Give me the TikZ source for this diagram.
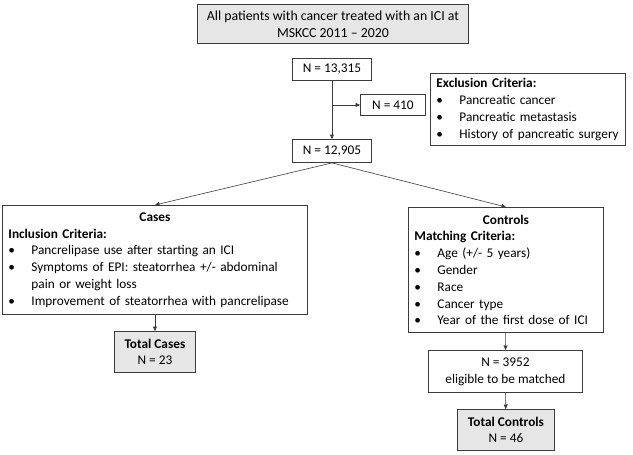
\documentclass[tikz,border=0pt]{standalone}
\usepackage{fontspec}
\setmainfont{Carlito}
\usetikzlibrary{arrows.meta}
\definecolor{boxline}{HTML}{3C3C3C}
\definecolor{boxfill}{HTML}{E6E6E6}
\newcommand{\bul}[1]{\makebox[23pt][l]{\textbullet}#1}
\newcommand{\bulcont}[1]{\hspace*{23pt}#1}
\begin{document}
\begin{tikzpicture}[x=1pt,y=-1pt,
  font=\fontsize{13.3}{16.8}\selectfont,
  box/.style={draw=boxline, line width=0.9pt, inner sep=0pt, align=center, anchor=north west},
  greybox/.style={box, fill=boxfill},
  listbox/.style={box, align=left, inner xsep=6pt},
  arr/.style={-{Triangle[length=4.5pt,width=4pt]}, draw=boxline, line width=0.6pt}]
\useasboundingbox (0,0) rectangle (633,455);
\node[greybox, minimum width=271pt, minimum height=39pt, font=\fontsize{13.8}{17}\selectfont] at (197,4) (all) {All patients with cancer treated with an ICI at\\MSKCC 2011 -- 2020};
\node[box, minimum width=79pt, minimum height=22pt] at (292,58) (n1) {N = 13,315};
\node[box, minimum width=65pt, minimum height=21pt] at (360,94) (excl) {N = 410};
\node[listbox, text width=183pt, minimum height=72pt] at (430,73) (crit) {\textbf{Exclusion Criteria:}\\\bul{Pancreatic cancer}\\\bul{Pancreatic metastasis}\\\bul{History of pancreatic surgery}};
\node[box, minimum width=79pt, minimum height=23pt] at (292,139) (n2) {N = 12,905};
\node[listbox, text width=293pt, minimum height=109pt] at (2,205) (cases) {\makebox[\linewidth]{\textbf{Cases}}\\\textbf{Inclusion Criteria:}\\\bul{Pancrelipase use after starting an ICI}\\\bul{Symptoms of EPI: steatorrhea +/- abdominal}\\\bulcont{pain or weight loss}\\\bul{Improvement of steatorrhea with pancrelipase}};
\node[listbox, text width=183pt, minimum height=125pt] at (408,207) (ctrl) {\makebox[\linewidth]{\textbf{Controls}}\\\textbf{Matching Criteria:}\\\bul{Age (+/- 5 years)}\\\bul{Gender}\\\bul{Race}\\\bul{Cancer type}\\\bul{Year of the first dose of ICI}};
\node[greybox, minimum width=81pt, minimum height=41pt] at (114,331) (totcases) {\textbf{Total Cases}\\N = 23};
\node[box, minimum width=154pt, minimum height=42pt] at (428,350) (elig) {N = 3952\\eligible to be matched};
\node[greybox, minimum width=97pt, minimum height=41pt] at (457,409) (totctrl) {\textbf{Total Controls}\\N = 46};
\coordinate (br) at (n1.south |- excl.west);
\path (n1) edge[arr] (n2);
\path (br) edge[arr] (excl);
\path (n2.south) edge[arr] (cases.north);
\path (n2.south) edge[arr] (ctrl.north);
\path (cases) edge[arr] (totcases);
\path (ctrl) edge[arr] (elig);
\path (elig) edge[arr] (totctrl);
\end{tikzpicture}
\end{document}
